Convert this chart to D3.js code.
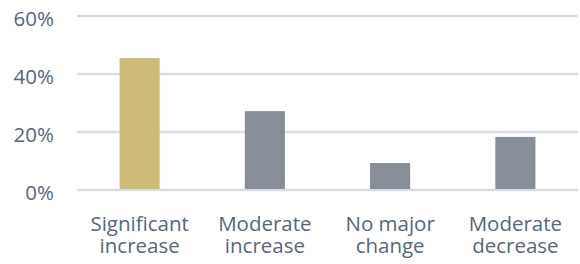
<!DOCTYPE html>
<html><head><meta charset="utf-8">
<script src="https://cdn.jsdelivr.net/npm/d3@7"></script>
<style>body{margin:0;background:#fff;}svg{display:block;}text{font-family:"Open Sans",sans-serif;}</style>
</head><body>
<svg id="chart" width="580" height="264"></svg>
<script>
const categories = [["Significant","increase"],["Moderate","increase"],["No major","change"],["Moderate","decrease"]];
const values = [45.5, 27.2, 9.3, 18.3];
const barColors = ["#cdbc77","#878e98","#878e98","#878e98"];
const ticks = [0, 20, 40, 60];

const svg = d3.select("#chart");
const m = {left:77, right:2, top:16, bottom:74};
const W = 580, H = 264;
const x = d3.scaleBand().domain(d3.range(categories.length)).range([m.left, W - m.right]).paddingInner(0.68).paddingOuter(0.34);
const y = d3.scaleLinear().domain([0, 60]).range([H - m.bottom, m.top]);
const textColor = "#566779";

svg.append("g").selectAll("line").data(ticks).join("line")
  .attr("x1", m.left).attr("x2", W - m.right)
  .attr("y1", d => y(d)).attr("y2", d => y(d))
  .attr("stroke", "#d8dde3").attr("stroke-width", 2.5);

svg.append("g").selectAll("rect").data(values).join("rect")
  .attr("x", (d,i) => x(i)).attr("width", x.bandwidth())
  .attr("y", d => y(d)).attr("height", d => y(0) - 1 - y(d))
  .attr("fill", (d,i) => barColors[i]);

const yAxis = d3.axisLeft(y).tickValues(ticks).tickFormat(d => d + "%").tickSize(0).tickPadding(0);
const ga = svg.append("g").attr("transform", `translate(54,0)`).call(yAxis);
ga.select(".domain").remove();
ga.selectAll("text").attr("font-size", 20.5).attr("fill", textColor).attr("font-family", "Open Sans").attr("dy", "0.46em");

const xAxis = d3.axisBottom(x).tickSize(0).tickFormat("");
const gx = svg.append("g").attr("transform", `translate(0,${y(0)})`).call(xAxis);
gx.select(".domain").remove();
gx.selectAll(".tick").each(function(d){
  const t = d3.select(this).append("text").attr("text-anchor","middle").attr("fill", textColor).attr("font-size", 20.5);
  categories[d].forEach((s, k) => t.append("tspan").attr("x", 0).attr("y", 41 + k*21.5).text(s));
});
</script>
</body></html>
